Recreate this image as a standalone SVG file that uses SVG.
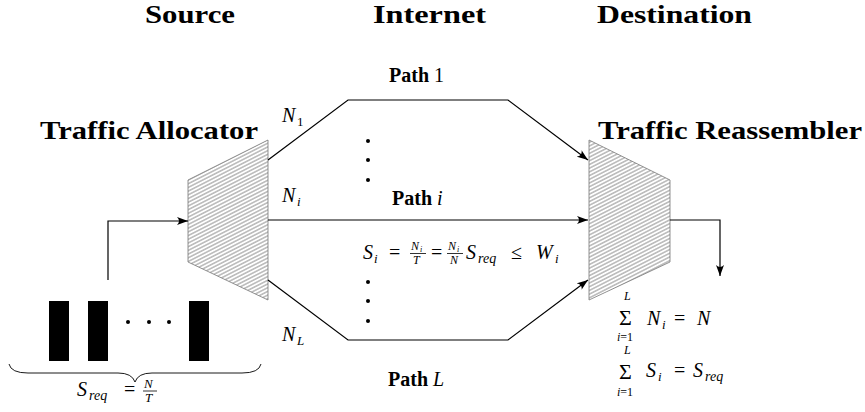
<svg xmlns="http://www.w3.org/2000/svg" width="865" height="412" viewBox="0 0 865 412">
<style>
text{font-family:"Liberation Serif","DejaVu Serif","Times New Roman",serif;fill:#000}
.hd{font-weight:bold;font-size:26px}
.pl{font-weight:bold;font-size:20px}
.rm{font-size:20px}
.it{font-style:italic}
.ln{fill:none;stroke:#000;stroke-width:1.2}
.tr{fill:url(#hatch);stroke:#777;stroke-width:0.8}
</style>
<defs>
<pattern id="hatch" patternUnits="userSpaceOnUse" width="10" height="3.3" patternTransform="rotate(-27)">
<line x1="0" y1="1.65" x2="10" y2="1.65" stroke="#555" stroke-width="0.7"/>
</pattern>
<marker id="arr" markerWidth="12" markerHeight="8" refX="11" refY="4" orient="auto" markerUnits="userSpaceOnUse">
<path d="M0,0 Q4,4 0,8 L11,4 Z" fill="#000"/>
</marker>
</defs>
<rect width="865" height="412" fill="#fff"/>

<g id="headings">
<text class="hd" x="145" y="23" textLength="90" lengthAdjust="spacingAndGlyphs">Source</text>
<text class="hd" x="373" y="23" textLength="113" lengthAdjust="spacingAndGlyphs">Internet</text>
<text class="hd" x="597" y="23" textLength="155" lengthAdjust="spacingAndGlyphs">Destination</text>
</g>

<g id="allocator">
<polygon class="tr" points="188,180 268,140 268,300 188,262"/>
<text class="hd" x="40" y="139" textLength="218" lengthAdjust="spacingAndGlyphs">Traffic Allocator</text>
</g>

<g id="reassembler">
<polygon class="tr" points="589,140 670,180 670,262 589,300"/>
<text class="hd" x="598" y="139" textLength="264" lengthAdjust="spacingAndGlyphs">Traffic Reassembler</text>
</g>

<g id="source-packets">
<rect x="49" y="301" width="20" height="60" fill="#000"/>
<rect x="88" y="301" width="20" height="60" fill="#000"/>
<rect x="189" y="301" width="20" height="60" fill="#000"/>
<circle cx="128" cy="322" r="2" fill="#000"/>
<circle cx="149" cy="322" r="2" fill="#000"/>
<circle cx="169" cy="322" r="2" fill="#000"/>
<path d="M9,364 Q11,373 28,373 L118,373 Q132,373 135,382 Q138,373 152,373 L242,373 Q259,373 261,364" fill="none" stroke="#000" stroke-width="0.9"/>
<text class="it" x="77" y="396" font-size="20">S</text>
<text class="it" x="89" y="400" font-size="14">req</text>
<text class="rm" x="124" y="396">=</text>
<text class="it" x="144" y="388" font-size="13">N</text>
<line x1="143" y1="391" x2="157" y2="391" stroke="#000" stroke-width="0.8"/>
<text class="it" x="145" y="402" font-size="13">T</text>
</g>

<g id="connectors">
<polyline class="ln" points="108,280 108,221 188,221" marker-end="url(#arr)"/>
<polyline class="ln" points="268,160 348,100 508,100 588,160" marker-end="url(#arr)"/>
<line class="ln" x1="268" y1="220" x2="588" y2="220" marker-end="url(#arr)"/>
<polyline class="ln" points="268,280 348,340 508,340 588,280" marker-end="url(#arr)"/>
<polyline class="ln" points="670,220 720,220 720,276" marker-end="url(#arr)"/>
</g>

<g id="path-labels">
<text class="pl" x="389" y="82">Path <tspan font-weight="normal">1</tspan></text>
<text class="pl" x="392" y="205">Path <tspan font-weight="normal" font-style="italic">i</tspan></text>
<text class="pl" x="388" y="386">Path <tspan font-weight="normal" font-style="italic">L</tspan></text>
<circle cx="368" cy="141" r="2" fill="#000"/>
<circle cx="368" cy="160" r="2" fill="#000"/>
<circle cx="368" cy="180" r="2" fill="#000"/>
<circle cx="368" cy="282" r="2" fill="#000"/>
<circle cx="368" cy="301" r="2" fill="#000"/>
<circle cx="368" cy="321" r="2" fill="#000"/>
<text class="it" x="282" y="122" font-size="20">N</text>
<text x="297" y="126" font-size="13">1</text>
<text class="it" x="282" y="202" font-size="20">N</text>
<text class="it" x="297" y="206" font-size="13">i</text>
<text class="it" x="282" y="341" font-size="20">N</text>
<text class="it" x="297" y="345" font-size="13">L</text>
</g>

<g id="rate-formula">
<text class="it" x="363" y="259" font-size="20">S</text>
<text class="it" x="374" y="263" font-size="13">i</text>
<text class="rm" x="389" y="259">=</text>
<text class="it" x="411" y="250" font-size="12">N</text>
<text class="it" x="420" y="252" font-size="8">i</text>
<line x1="410" y1="253.5" x2="426" y2="253.5" stroke="#000" stroke-width="0.8"/>
<text class="it" x="413" y="264" font-size="12">T</text>
<text class="rm" x="431" y="259">=</text>
<text class="it" x="448" y="250" font-size="12">N</text>
<text class="it" x="457" y="252" font-size="8">i</text>
<line x1="447" y1="253.5" x2="463" y2="253.5" stroke="#000" stroke-width="0.8"/>
<text class="it" x="450" y="264" font-size="12">N</text>
<text class="it" x="466" y="259" font-size="20">S</text>
<text class="it" x="478" y="263" font-size="14">req</text>
<text class="rm" x="511" y="259">≤</text>
<text class="it" x="536" y="259" font-size="20">W</text>
<text class="it" x="555" y="263" font-size="13">i</text>
</g>

<g id="sum-formulas">
<text class="it" x="624" y="300" font-size="12">L</text>
<text x="619" y="325" font-size="22">Σ</text>
<text class="it" x="617" y="341" font-size="12">i<tspan font-style="normal">=1</tspan></text>
<text class="it" x="647" y="325" font-size="20">N</text>
<text class="it" x="662" y="329" font-size="13">i</text>
<text class="rm" x="674" y="325">=</text>
<text class="it" x="697" y="325" font-size="20">N</text>

<text class="it" x="624" y="354" font-size="12">L</text>
<text x="619" y="379" font-size="22">Σ</text>
<text class="it" x="617" y="396" font-size="12">i<tspan font-style="normal">=1</tspan></text>
<text class="it" x="646" y="377" font-size="20">S</text>
<text class="it" x="658" y="381" font-size="13">i</text>
<text class="rm" x="674" y="377">=</text>
<text class="it" x="693" y="377" font-size="20">S</text>
<text class="it" x="705" y="381" font-size="14">req</text>
</g>
</svg>
